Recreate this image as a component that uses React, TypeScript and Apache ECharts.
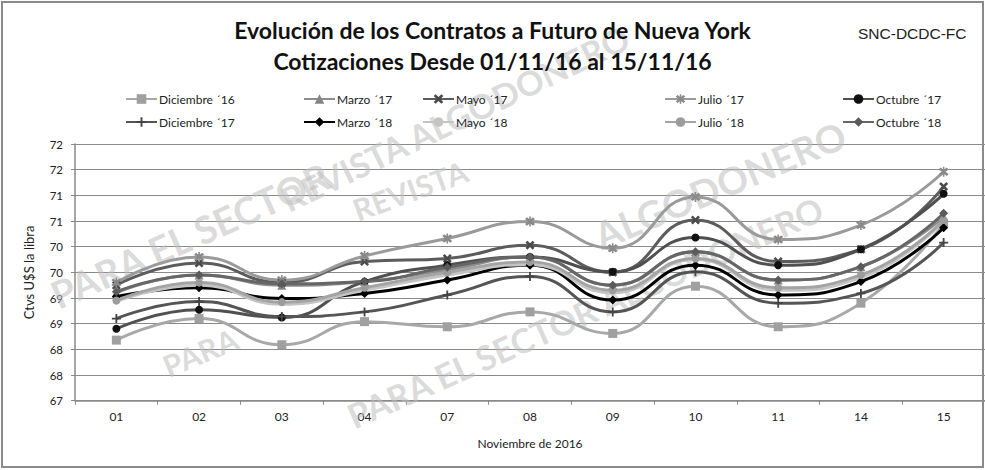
import React, { useEffect, useRef } from "react";
import * as echarts from "echarts";

const categories = ["01", "02", "03", "04", "07", "08", "09", "10", "11", "14", "15"];

const dic16 = [68.18, 68.6, 68.09, 68.54, 68.44, 68.73, 68.31, 69.23, 68.44, 68.9, 70.45];
const mar17 = [69.1, 69.45, 69.25, 69.32, 69.55, 69.8, 69.25, 69.9, 69.35, 69.61, 70.58];
const may17 = [69.25, 69.68, 69.3, 69.71, 69.77, 70.03, 69.5, 70.52, 69.71, 69.95, 71.17];
const jul17 = [69.3, 69.8, 69.35, 69.82, 70.16, 70.49, 69.97, 70.97, 70.14, 70.42, 71.46];
const oct17 = [68.4, 68.77, 68.62, 69.32, 69.64, 69.8, 69.51, 70.18, 69.64, 69.95, 71.03];
const dic17 = [68.6, 68.93, 68.64, 68.73, 69.06, 69.42, 68.73, 69.51, 68.9, 69.09, 70.08];
const mar18 = [69.03, 69.2, 68.99, 69.09, 69.35, 69.64, 68.96, 69.64, 69.06, 69.32, 70.37];
const may18 = [68.93, 69.25, 68.88, 69.15, 69.45, 69.65, 69.1, 69.75, 69.15, 69.4, 70.5];
const jul18 = [68.95, 69.3, 68.92, 69.2, 69.5, 69.7, 69.15, 69.77, 69.2, 69.45, 70.52];
const oct18 = [69.12, 69.45, 69.28, 69.32, 69.6, 69.8, 69.25, 69.9, 69.35, 69.61, 70.65];

const seriesNames = [
  "Diciembre ´16", "Marzo ´17", "Mayo ´17", "Julio ´17", "Octubre ´17",
  "Diciembre ´17", "Marzo ´18", "Mayo ´18", "Julio ´18", "Octubre ´18",
];

const X_PATH = "path://M2,0 L5,3 L8,0 L10,2 L7,5 L10,8 L8,10 L5,7 L2,10 L0,8 L3,5 L0,2 Z";
const AST_PATH = "path://M2,0 L5,3 L8,0 L10,2 L7,5 L10,8 L8,10 L5,7 L2,10 L0,8 L3,5 L0,2 Z M4.2,-1 L5.8,-1 L5.8,11 L4.2,11 Z";
const PLUS_PATH = "path://M4,0 H6 V4 H10 V6 H6 V10 H4 V6 H0 V4 H4 Z";

export default function App() {
  const ref = useRef<HTMLDivElement>(null);
  useEffect(() => {
    if (!ref.current) return;
    const chart = echarts.init(ref.current, null, { renderer: "svg" });
    const font = "Lato, 'Noto Sans', sans-serif";
    const mk = (name: string, data: number[], line: string, mark: string, symbol: string, size: number) => ({
      name,
      type: "line",
      data,
      smooth: 0.5,
      symbol,
      symbolSize: size,
      showSymbol: symbol !== "none",
      lineStyle: { color: line, width: 3 },
      itemStyle: { color: mark },
      z: 3,
    });
    const series = [
      mk(seriesNames[0], dic16, "#a8a8a8", "#a0a0a0", "rect", 9),
      mk(seriesNames[1], mar17, "#8c8c8c", "#858585", "triangle", 9),
      mk(seriesNames[2], may17, "#5c5c5c", "#4a4a4a", X_PATH, 9),
      mk(seriesNames[3], jul17, "#9a9a9a", "#8a8a8a", AST_PATH, 10),
      mk(seriesNames[4], oct17, "#505050", "#111111", "circle", 8),
      mk(seriesNames[5], dic17, "#555555", "#444444", PLUS_PATH, 9),
      mk(seriesNames[6], mar18, "#000000", "#000000", "diamond", 9),
      mk(seriesNames[7], may18, "#c4c4c4", "#c4c4c4", "none", 0),
      mk(seriesNames[8], jul18, "#a4a4a4", "#9c9c9c", "circle", 8),
      mk(seriesNames[9], oct18, "#666666", "#5a5a5a", "diamond", 9),
    ];
    const cols = [125, 303, 422, 664, 842];
    const legends = cols.map((x, i) => ({
      orient: "vertical",
      left: x,
      top: 93,
      itemWidth: 31,
      itemHeight: 12,
      itemGap: 11,
      padding: 0,
      textStyle: { fontFamily: font, fontSize: 12, color: "#222", padding: [0, 0, 0, -3] },
      data: [seriesNames[i], seriesNames[i + 5]],
    }));
    const wm = (text: string, x: number, y: number, rot: number, size: number) => ({
      type: "text",
      x,
      y,
      rotation: rot,
      z: 1,
      silent: true,
      style: {
        text,
        fill: "#bdbdbd",
        opacity: 0.55,
        font: `bold ${size}px ${font}`,
        textAlign: "center",
        textVerticalAlign: "middle",
      },
    });
    chart.setOption({
      animation: false,
      backgroundColor: "#ffffff",
      title: [
        {
          text: "Evolución de los Contratos a Futuro de Nueva York",
          left: "center",
          top: 13,
          textStyle: { fontFamily: font, fontSize: 23, fontWeight: "bold", color: "#111" },
        },
        {
          text: "Cotizaciones Desde 01/11/16 al 15/11/16",
          left: "center",
          top: 44,
          textStyle: { fontFamily: font, fontSize: 23, fontWeight: "bold", color: "#111" },
        },
        {
          text: "SNC-DCDC-FC",
          left: 853,
          top: 20,
          textStyle: { fontFamily: "'Liberation Sans', Arial, sans-serif", fontSize: 15.5, fontWeight: "normal", color: "#222" },
        },
      ],
      legend: legends,
      graphic: [
        {
          type: "rect",
          shape: { x: 2, y: 2, width: 981, height: 465 },
          style: { fill: "none", stroke: "#8a8a8a", lineWidth: 2 },
          z: 0,
          silent: true,
        },
        wm("REVISTA ALGODONERO", 455, 118, 0.45, 34),
        wm("PARA EL SECTOR", 190, 235, 0.42, 38),
        wm("REVISTA", 410, 190, 0.35, 30),
        wm("ALGODONERO", 720, 185, 0.4, 38),
        wm("PARA EL SECTOR ALGODONERO", 585, 312, 0.42, 34),
        wm("PARA", 200, 352, 0.4, 30),
      ],
      grid: { left: 75, top: 144, width: 912, height: 256.7 },
      xAxis: {
        type: "category",
        data: categories,
        boundaryGap: true,
        name: "Noviembre de 2016",
        nameLocation: "middle",
        nameGap: 37,
        nameTextStyle: { fontFamily: font, fontSize: 12, color: "#222" },
        axisLine: { lineStyle: { color: "#8a8a8a", width: 1.5 } },
        axisTick: { show: true, length: 4, lineStyle: { color: "#8a8a8a" } },
        axisLabel: { fontFamily: font, fontSize: 12, color: "#222", margin: 10 },
      },
      yAxis: {
        type: "value",
        min: 67,
        max: 72,
        interval: 0.5,
        name: "Ctvs U$S la libra",
        nameLocation: "middle",
        nameGap: 40,
        nameTextStyle: { fontFamily: font, fontSize: 13, color: "#222" },
        axisLine: { show: true, lineStyle: { color: "#8a8a8a", width: 1.5 } },
        axisTick: { show: true, length: 4, lineStyle: { color: "#8a8a8a" } },
        axisLabel: {
          fontFamily: font,
          fontSize: 11.5,
          color: "#222",
          margin: 12,
          formatter: (v: number) => String(Math.round(v)),
        },
        splitLine: { show: true, lineStyle: { color: "#8a8a8a", width: 1.2 } },
      },
      series,
    });
    return () => chart.dispose();
  }, []);
  return (
    <div
      ref={ref}
      style={{ position: "fixed", left: 0, top: 0, width: 985, height: 470, background: "#fff" }}
    />
  );
}
